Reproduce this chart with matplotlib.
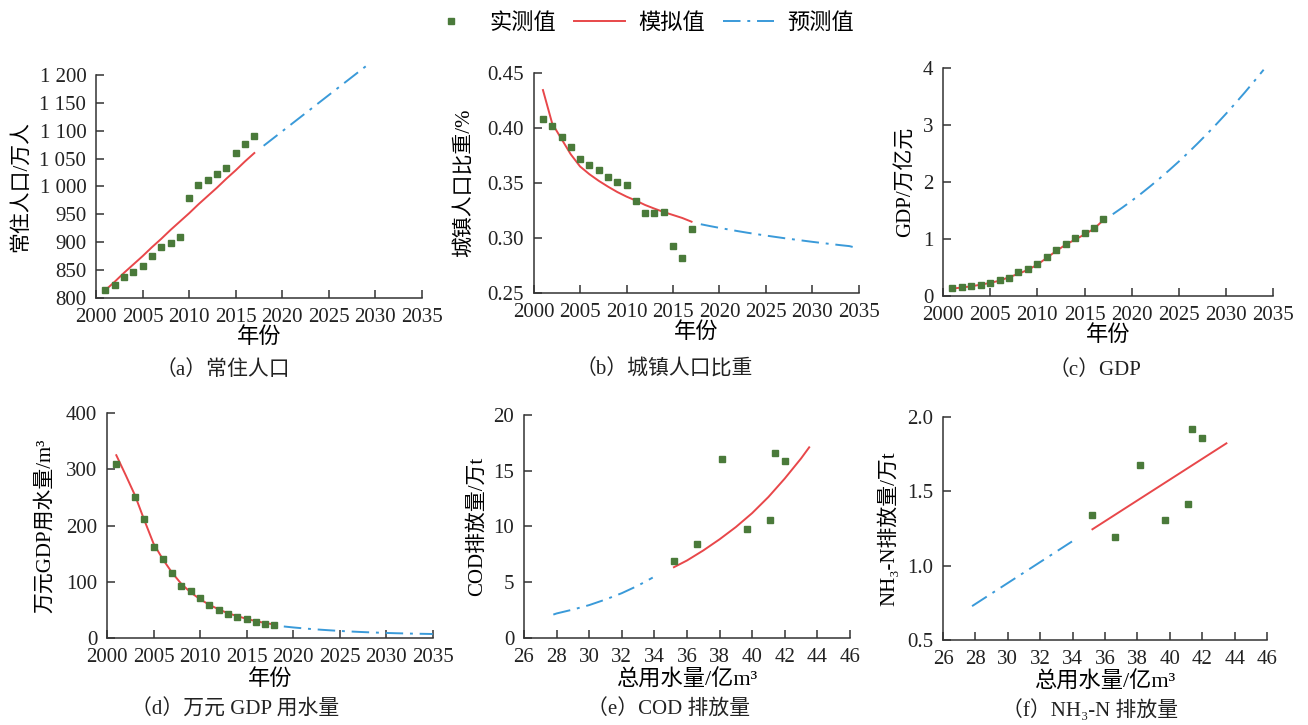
import numpy as np
import matplotlib
matplotlib.use("Agg")
import matplotlib.pyplot as plt
from matplotlib.lines import Line2D

plt.rcParams['font.family'] = ['Liberation Serif', 'Noto Sans CJK SC', 'DejaVu Sans']

GREEN = "#4a7a3a"
RED = "#e8474a"
BLUE = "#3a9ad9"
DASHDOT = (0, (9, 3.5, 1.5, 3.5))

# ── (a) resident population ───────────────────────────────────────────────────
years_obs = list(range(2001, 2018))
pop_obs = [814, 823, 837, 846, 858, 875, 892, 898, 910, 979, 1002, 1012, 1022,
           1033, 1060, 1077, 1090]
pop_fit = [814, 829, 845, 860, 875, 891, 906, 922, 937, 952, 968, 983, 998,
           1014, 1029, 1045, 1060]
years_pop_pred = list(range(2018, 2030))
pop_pred = [1073, 1086, 1099, 1112, 1125, 1138, 1151, 1164, 1177, 1190, 1203, 1216]
pop_ticks = [800, 850, 900, 950, 1000, 1050, 1100, 1150, 1200]
pop_ticklabels = ["800", "850", "900", "950", "1 000", "1 050", "1 100", "1 150", "1 200"]

# ── (b) urban population share ────────────────────────────────────────────────
urb_obs = [0.408, 0.402, 0.392, 0.383, 0.372, 0.366, 0.3615, 0.355, 0.351, 0.3485,
           0.3333, 0.3224, 0.323, 0.3236, 0.293, 0.2818, 0.3085]
urb_fit = [0.4345, 0.404, 0.390, 0.376, 0.365, 0.358, 0.352, 0.3467, 0.3418, 0.3376,
           0.334, 0.330, 0.3267, 0.3236, 0.3209, 0.3182, 0.3148]
years_urb_pred = list(range(2018, 2036))
urb_pred = [0.3125, 0.3108, 0.3092, 0.3077, 0.3062, 0.3048, 0.3035, 0.3022, 0.3010,
            0.2998, 0.2987, 0.2976, 0.2965, 0.2955, 0.2945, 0.2935, 0.2926, 0.2905]

# ── (c) GDP ───────────────────────────────────────────────────────────────────
gdp_obs = [0.14, 0.15, 0.17, 0.19, 0.23, 0.275, 0.32, 0.42, 0.47, 0.56, 0.68, 0.81,
           0.91, 1.01, 1.10, 1.19, 1.35]
gdp_fit = [0.13, 0.15, 0.17, 0.20, 0.23, 0.27, 0.33, 0.39, 0.46, 0.55, 0.67, 0.79,
           0.90, 0.99, 1.08, 1.18, 1.33]
years_gdp_pred = list(range(2018, 2035))
gdp_pred = [1.435, 1.55, 1.67, 1.796, 1.929, 2.067, 2.21, 2.359, 2.515, 2.677, 2.844,
            3.017, 3.196, 3.381, 3.571, 3.768, 3.97]

# ── (d) water use per 10k yuan GDP ────────────────────────────────────────────
years_wu_obs = [2001] + list(range(2003, 2019))
wu_obs = [309, 251, 211.5, 162, 141, 116, 93, 83, 71, 59, 49, 42.5, 37, 34, 29, 25, 23.6]
years_wu_fit = list(range(2001, 2019))
wu_fit = [325, 290, 254, 210, 168, 140, 116, 96, 81, 69, 59, 51, 44, 39, 34, 30, 26.6, 24]
years_wu_pred = list(range(2019, 2036))
wu_pred = [20.5, 18.8, 17.3, 15.9, 14.7, 13.6, 12.6, 11.7, 10.9, 10.2, 9.6, 9.0, 8.5,
           8.1, 7.7, 7.4, 7.1]

# ── (e) COD emission vs total water use ───────────────────────────────────────
water_obs = [35.21, 36.64, 38.16, 39.69, 41.09, 41.39, 42.0]
cod_obs = [6.9, 8.45, 16.09, 9.76, 10.54, 16.57, 15.91]
water_cod_fit = [35.2, 36, 37, 38, 39, 40, 41, 42, 43, 43.5]
cod_fit = [6.35, 6.95, 7.85, 8.85, 9.95, 11.2, 12.65, 14.3, 16.1, 17.1]
water_cod_pred = [27.8, 28, 29, 30, 31, 32, 33, 33.9]
cod_pred = [2.1, 2.2, 2.55, 2.95, 3.45, 4.02, 4.7, 5.42]

# ── (f) NH3-N emission vs total water use ─────────────────────────────────────
nh3_obs = [1.34, 1.19, 1.68, 1.31, 1.413, 1.92, 1.86]
water_nh3_fit = [35.22, 43.49]
nh3_fit = [1.245, 1.823]
water_nh3_pred = [27.79, 33.96]
nh3_pred = [0.728, 1.163]

year_ticks = [2000, 2005, 2010, 2015, 2020, 2025, 2030, 2035]
water_ticks = list(range(26, 47, 2))


def style_axes(ax):
    for side in ("top", "right"):
        ax.spines[side].set_visible(False)
    for side in ("left", "bottom"):
        ax.spines[side].set_color("#333333")
        ax.spines[side].set_linewidth(1.1)
    ax.tick_params(direction="in", length=6, width=1.1, color="#333333",
                   labelsize=15, labelcolor="#222222")
    ax.tick_params(axis="x", pad=7)
    ax.tick_params(axis="y", pad=7)


def draw(ax, xo, yo, xf, yf, xp, yp):
    ax.plot(xf, yf, color=RED, lw=1.4, clip_on=False, zorder=3)
    ax.plot(xp, yp, color=BLUE, lw=1.4, ls=DASHDOT, clip_on=False, zorder=3)
    ax.plot(xo, yo, ls="none", marker="s", ms=4, color=GREEN, clip_on=False, zorder=4)


fig = plt.figure(figsize=(13.08, 7.25), dpi=100)

axa = fig.add_axes([0.0734, 0.589, 0.2492, 0.3076])
axb = fig.add_axes([0.408, 0.5959, 0.2485, 0.3034])
axc = fig.add_axes([0.721, 0.5917, 0.2523, 0.3145])
axd = fig.add_axes([0.0818, 0.120, 0.249, 0.3103])
axe = fig.add_axes([0.4006, 0.120, 0.2492, 0.3076])
axf = fig.add_axes([0.721, 0.1172, 0.2477, 0.3076])

draw(axa, years_obs, pop_obs, years_obs, pop_fit, years_pop_pred, pop_pred)
axa.set_ylim(800, 1200)
axa.set_yticks(pop_ticks)
axa.set_yticklabels(pop_ticklabels)
axa.set_ylabel("常住人口/万人", fontsize=15, labelpad=6)

draw(axb, years_obs, urb_obs, years_obs, urb_fit, years_urb_pred, urb_pred)
axb.set_ylim(0.25, 0.45)
axb.set_yticks([0.25, 0.30, 0.35, 0.40, 0.45])
axb.set_yticklabels(["0.25", "0.30", "0.35", "0.40", "0.45"])
axb.set_ylabel("城镇人口比重/%", fontsize=15, labelpad=10)

draw(axc, years_obs, gdp_obs, years_obs, gdp_fit, years_gdp_pred, gdp_pred)
axc.set_ylim(0, 4)
axc.set_yticks([0, 1, 2, 3, 4])
axc.set_ylabel("GDP/万亿元", fontsize=15, labelpad=6)

draw(axd, years_wu_obs, wu_obs, years_wu_fit, wu_fit, years_wu_pred, wu_pred)
axd.set_ylim(0, 400)
axd.set_yticks([0, 100, 200, 300, 400])
axd.set_ylabel("万元GDP用水量/m³", fontsize=15, labelpad=8)

for ax in (axa, axb, axc):
    ax.set_xlim(2000, 2035)
    ax.set_xticks(year_ticks)
    ax.set_xlabel("年份", fontsize=16, labelpad=0)
axd.set_xlim(2000, 2035)
axd.set_xticks(year_ticks)
axd.set_xlabel("年份", fontsize=16, labelpad=2)

draw(axe, water_obs, cod_obs, water_cod_fit, cod_fit, water_cod_pred, cod_pred)
axe.set_ylim(0, 20)
axe.set_yticks([0, 5, 10, 15, 20])
axe.set_ylabel("COD排放量/万t", fontsize=15, labelpad=5)

draw(axf, water_obs, nh3_obs, water_nh3_fit, nh3_fit, water_nh3_pred, nh3_pred)
axf.set_ylim(0.5, 2.0)
axf.set_yticks([0.5, 1.0, 1.5, 2.0])
axf.set_yticklabels(["0.5", "1.0", "1.5", "2.0"])
axf.set_ylabel("NH₃-N排放量/万t", fontsize=15, labelpad=6)

for ax in (axe, axf):
    ax.set_xlim(26, 46)
    ax.set_xticks(water_ticks)
    ax.set_xlabel("总用水量/亿m³", fontsize=16, labelpad=2)

for ax in (axa, axb, axc, axd, axe, axf):
    style_axes(ax)

# captions
captions = [("（a）常住人口", 0.170, 0.490), ("（b）城镇人口比重", 0.508, 0.490),
            ("（c）GDP", 0.837, 0.490), ("（d）万元 GDP 用水量", 0.180, 0.021),
            ("（e）COD 排放量", 0.511, 0.021), ("（f）NH₃-N 排放量", 0.833, 0.021)]
for text, x, y in captions:
    fig.text(x, y, text, ha="center", va="center", fontsize=15, color="#222222")

handles = [Line2D([], [], ls="none", marker="s", ms=4, color=GREEN),
           Line2D([], [], color=RED, lw=1.4),
           Line2D([], [], color=BLUE, lw=1.4, ls=DASHDOT)]
fig.legend(handles, ["实测值", "模拟值", "预测值"], loc="upper center",
           bbox_to_anchor=(0.489, 1.01), ncol=3, frameon=False, fontsize=16,
           handlelength=2.3, columnspacing=0.8, handletextpad=0.6)

fig.savefig("out.png", dpi=100)
